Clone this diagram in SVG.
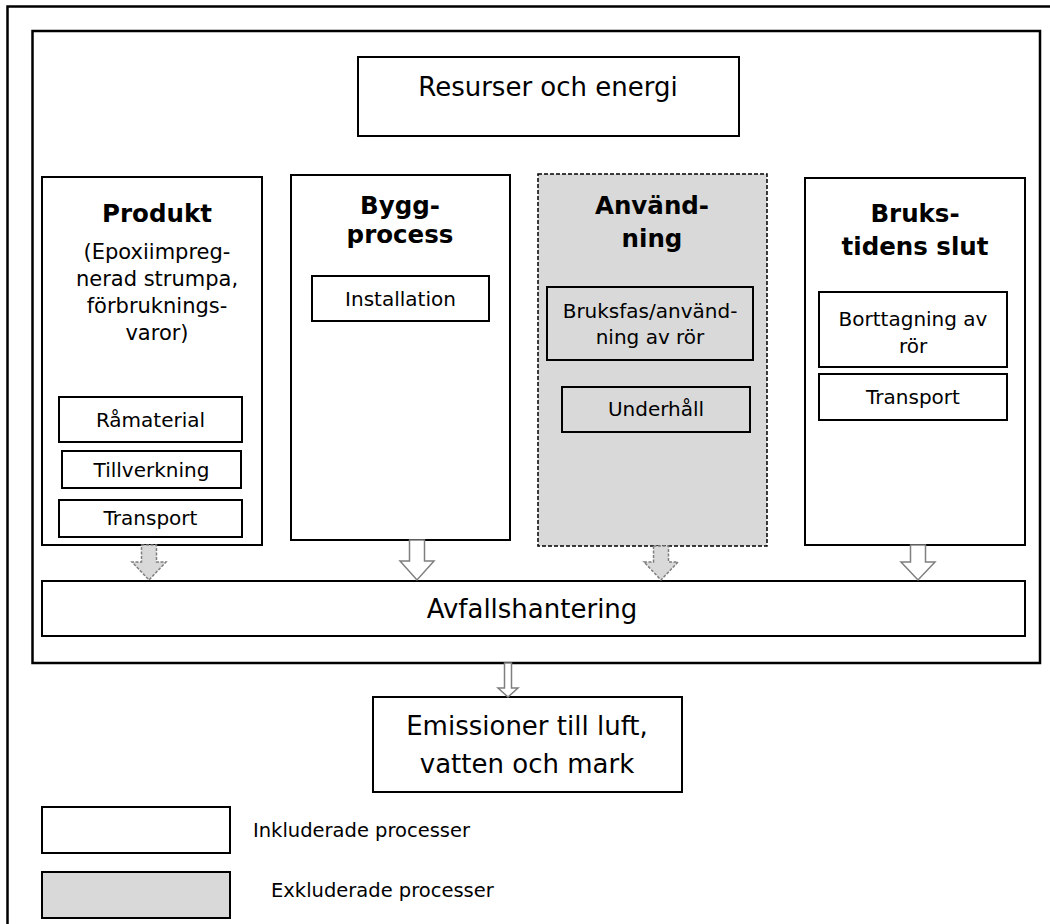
<svg xmlns="http://www.w3.org/2000/svg" width="1050" height="924" viewBox="0 0 1050 924">
<style>
  text { font-family: "DejaVu Sans", "Liberation Sans", sans-serif; fill: #000; text-anchor: middle; }
  .frame { fill: none; stroke: #000; stroke-width: 2.5; }
  .box { fill: #fff; stroke: #000; stroke-width: 2; }
  .gbox { fill: #d9d9d9; stroke: #000; stroke-width: 2; }
  .dash { fill: #d9d9d9; stroke: #000; stroke-width: 1.5; stroke-dasharray: 4 2; }
  .h { font-weight: bold; font-size: 24.5px; }
  .big { font-size: 26px; }
  .mid { font-size: 21px; }
  .sm { font-size: 20px; }
  .leg { font-size: 19.5px; text-anchor: start; }
  .arW { fill: #fff; stroke: #7f7f7f; stroke-width: 1.5; }
  .arG { fill: #d9d9d9; stroke: #7f7f7f; stroke-width: 1.5; stroke-dasharray: 3 1.5; }
</style>
<rect width="1050" height="924" fill="#fff"/>
<g id="outer-frame"><rect class="frame" x="7.5" y="6.5" width="1100" height="1000"/></g>
<g id="system-boundary"><rect class="frame" x="32.5" y="31" width="1007.5" height="632" stroke-width="2"/></g>

<g id="resurser">
  <rect class="box" x="358" y="57" width="381" height="79"/>
  <text class="big" x="548" y="96" font-size="25">Resurser och energi</text>
</g>

<g id="produkt">
  <rect class="box" x="42" y="177" width="220" height="368"/>
  <text class="h" x="157" y="222">Produkt</text>
  <text class="mid" x="157" y="259">(Epoxiimpreg-</text>
  <text class="mid" x="157" y="286">nerad strumpa,</text>
  <text class="mid" x="157" y="313">förbruknings-</text>
  <text class="mid" x="157" y="340">varor)</text>
</g>
<g id="ramaterial">
  <rect class="box" x="59" y="397" width="183" height="45"/>
  <text class="sm" x="150.5" y="427">Råmaterial</text>
</g>
<g id="tillverkning">
  <rect class="box" x="62" y="451" width="179" height="37"/>
  <text class="sm" x="151.5" y="477">Tillverkning</text>
</g>
<g id="transport1">
  <rect class="box" x="59" y="500" width="183" height="37"/>
  <text class="sm" x="150.5" y="525">Transport</text>
</g>

<g id="byggprocess">
  <rect class="box" x="291" y="175" width="219" height="365"/>
  <text class="h" x="400" y="214">Bygg-</text>
  <text class="h" x="400" y="243">process</text>
</g>
<g id="installation">
  <rect class="box" x="312" y="276" width="177" height="45"/>
  <text class="sm" x="400.5" y="306">Installation</text>
</g>

<g id="anvandning">
  <rect class="dash" x="538" y="174" width="229" height="372"/>
  <text class="h" x="652" y="214">Använd-</text>
  <text class="h" x="652" y="247">ning</text>
</g>
<g id="bruksfas">
  <rect class="gbox" x="547" y="287" width="206" height="73"/>
  <text class="sm" x="650" y="318" font-size="19.5">Bruksfas/använd-</text>
  <text class="sm" x="650" y="344" font-size="19.5">ning av rör</text>
</g>
<g id="underhall">
  <rect class="gbox" x="562" y="387" width="188" height="45"/>
  <text class="sm" x="656" y="416">Underhåll</text>
</g>

<g id="brukstidens-slut">
  <rect class="box" x="805" y="178" width="220" height="367"/>
  <text class="h" x="915" y="222">Bruks-</text>
  <text class="h" x="915" y="255">tidens slut</text>
</g>
<g id="borttagning">
  <rect class="box" x="819" y="292" width="188" height="75"/>
  <text class="sm" x="913" y="326" font-size="19.5">Borttagning av</text>
  <text class="sm" x="913" y="353" font-size="19.5">rör</text>
</g>
<g id="transport2">
  <rect class="box" x="819" y="374" width="188" height="46"/>
  <text class="sm" x="913" y="404">Transport</text>
</g>

<g id="avfallshantering">
  <rect class="box" x="42" y="581" width="983" height="55"/>
  <text class="big" x="532" y="618">Avfallshantering</text>
</g>

<g id="emissioner">
  <rect class="box" x="373" y="697" width="309" height="95"/>
  <text class="big" x="527" y="735" font-size="26.5">Emissioner till luft,</text>
  <text class="big" x="527" y="773" font-size="26.5">vatten och mark</text>
</g>

<g id="legend-included">
  <rect class="box" x="42" y="807" width="188" height="46"/>
  <text class="leg" x="253" y="837">Inkluderade processer</text>
</g>
<g id="legend-excluded">
  <rect class="gbox" x="42" y="872" width="188" height="46"/>
  <text class="leg" x="271" y="897">Exkluderade processer</text>
</g>

<g id="connectors">
  <path class="arG" d="M141.5,545 H156.5 V562 H166 L149,580 L132,562 H141.5 Z"/>
  <path class="arW" d="M409.5,540 H424.5 V561 H434 L417,580 L400,561 H409.5 Z"/>
  <path class="arG" d="M653.5,546 H668.5 V562 H678 L661,580 L644,562 H653.5 Z"/>
  <path class="arW" d="M910.5,545 H925.5 V562 H935 L918,580 L901,562 H910.5 Z"/>
  <path class="arW" d="M504.5,663 H511.5 V688 H518 L508,697 L498,688 H504.5 Z"/>
</g>
</svg>
